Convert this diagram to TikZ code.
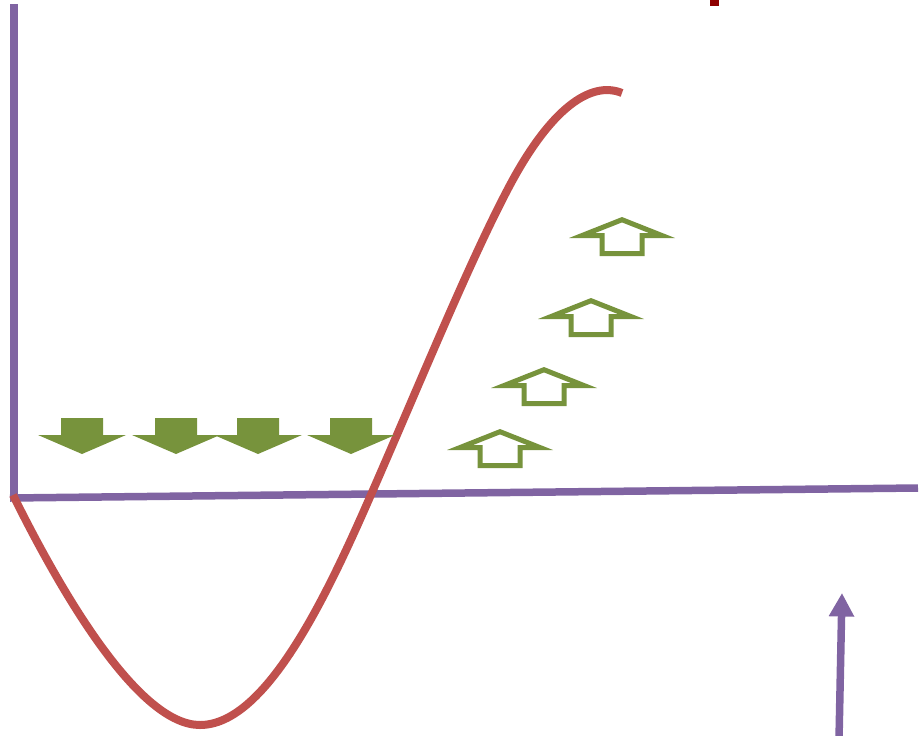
\documentclass[tikz,border=0pt]{standalone}
\usetikzlibrary{arrows.meta}
\definecolor{axispurple}{HTML}{8064A2}
\definecolor{curvered}{HTML}{C0504D}
\definecolor{arrowgreen}{HTML}{77933C}
\definecolor{markred}{HTML}{8E0000}
\begin{document}
\begin{tikzpicture}[x=0.02cm,y=-0.02cm]
						\useasboundingbox (0,0) rectangle (921,735);
						\coordinate (top) at (14,4);
						\coordinate (origin) at (14,498);
						\coordinate (right) at (918,488);
						\draw[axispurple,line width=0.16cm] (top) -- (origin);
						\draw[axispurple,line width=0.15cm] (10,498) -- (right);
						\draw[curvered,line width=0.16cm] (13,495) .. controls (65,600) and (140,725) .. (200,725)
							.. controls (265,725) and (325,600) .. (370,497)
							.. controls (420,383) and (470,260) .. (510,185)
							.. controls (550,110) and (590,80) .. (622,93);
						\foreach \cx in {82,176,258,351}
							\fill[arrowgreen] (\cx-21,418) -- (\cx+21,418) -- (\cx+21,435) -- (\cx+44,435) -- (\cx,454) -- (\cx-44,435) -- (\cx-21,435) -- cycle;
						\foreach \cx/\ty in {622/217,591/298,544/367,500/429}
							\fill[arrowgreen,even odd rule] (\cx,\ty) -- (\cx+53,\ty+21) -- (\cx+22.5,\ty+21) -- (\cx+22.5,\ty+39) -- (\cx-22.5,\ty+39) -- (\cx-22.5,\ty+21) -- (\cx-53,\ty+21) -- cycle
								(\cx,\ty+5.4) -- (\cx+26.8,\ty+16) -- (\cx+17.5,\ty+16) -- (\cx+17.5,\ty+34) -- (\cx-17.5,\ty+34) -- (\cx-17.5,\ty+16) -- (\cx-26.8,\ty+16) -- cycle;
						\coordinate (pbot) at (839,740);
						\coordinate (ptop) at (842,593);
						\draw[axispurple,line width=0.15cm,-{Triangle[length=0.47cm,width=0.48cm]}] (pbot) -- (ptop);
						\fill[markred] (710,-2) rectangle (719,6);
					\end{tikzpicture}
\end{document}
